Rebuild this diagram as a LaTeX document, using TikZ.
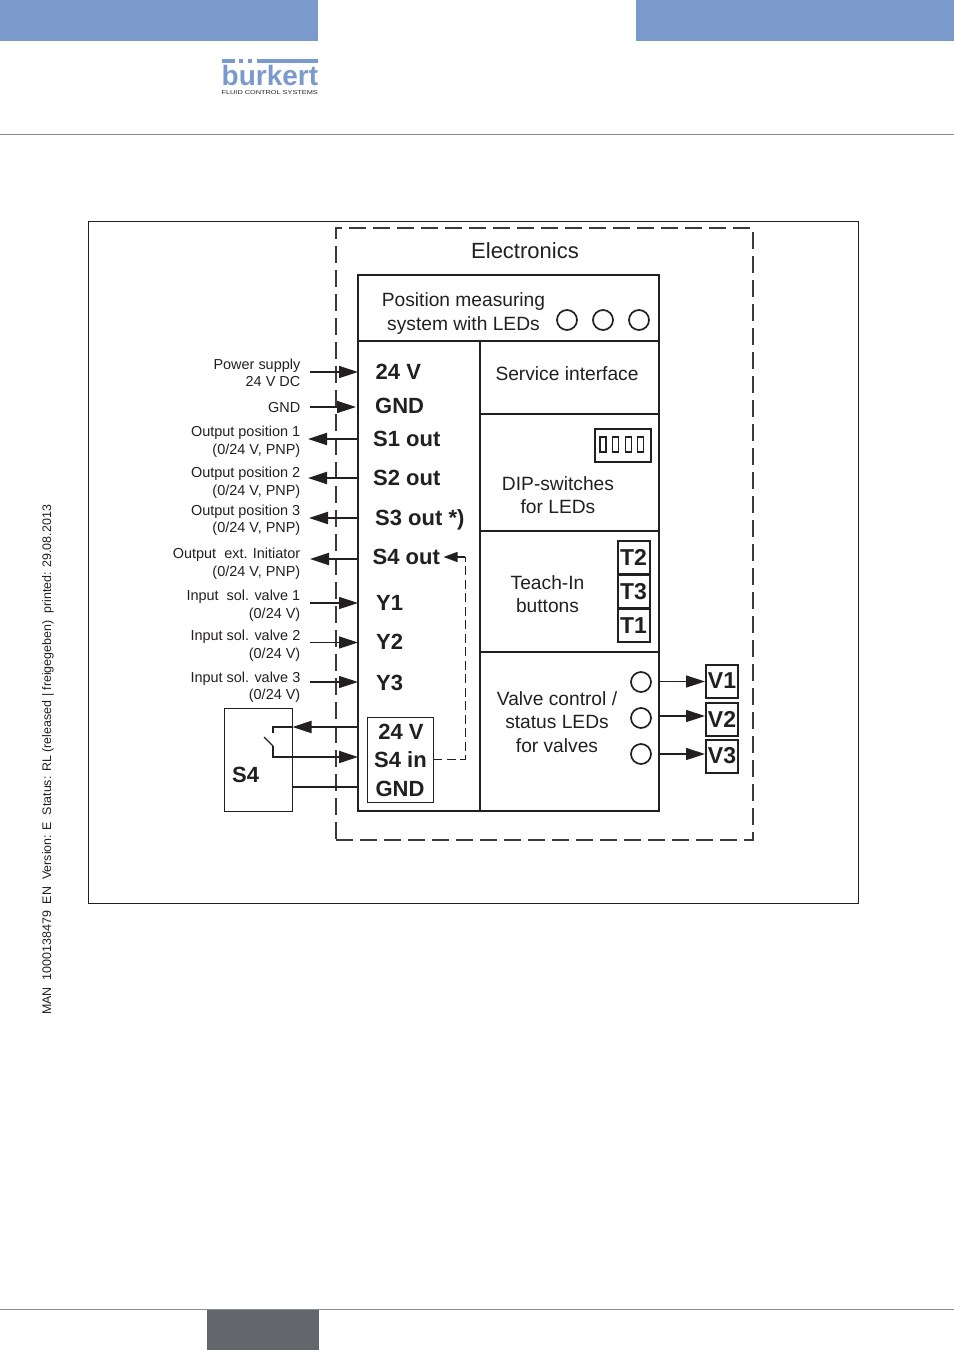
\documentclass[tikz,border=0pt]{standalone}
\usepackage{fontspec}
\setmainfont{Liberation Sans}
\usetikzlibrary{arrows.meta}
\definecolor{hdr}{HTML}{7A9ACB}
\definecolor{ink}{HTML}{231F20}
\definecolor{rulegrey}{HTML}{8A8C8E}
\definecolor{footgrey}{HTML}{63666A}
\definecolor{dashgrey}{HTML}{3A3A3C}
\tikzset{
  lab/.style={font=\fontsize{14.45}{17.5}\selectfont, text=ink, align=right, anchor=east, inner sep=0pt},
  big/.style={font=\fontsize{22}{24}\selectfont\bfseries, text=ink, anchor=west, inner sep=0pt},
  body/.style={font=\fontsize{19.2}{23.5}\selectfont, text=ink, align=center, inner sep=0pt},
  cell/.style={draw=ink, line width=2pt, anchor=north west, inner sep=0pt},
  thin box/.style={draw=ink, line width=1pt, anchor=north west, inner sep=0pt},
  tbox/.style={draw=ink, line width=2pt, inner sep=0pt, minimum width=32pt, minimum height=33pt, font=\fontsize{23}{24}\selectfont\bfseries, text=ink},
  led/.style={circle, draw=ink, line width=1.7pt, minimum size=20pt, inner sep=0pt},
  sig/.style={draw=ink, line width=1.5pt, -{Triangle[length=19pt,width=12pt]}},
  wire/.style={draw=ink, line width=2.2pt},
  wirea/.style={wire, -{Triangle[length=19pt,width=12pt]}},
  dip/.style={draw=ink, line width=1.5pt, minimum width=6pt, minimum height=15pt, inner sep=0pt},
}
\begin{document}
\begin{tikzpicture}[x=1pt,y=-1pt]
\useasboundingbox (0,0) rectangle (954,1350);
% page furniture
\fill[hdr] (0,0) rectangle (318,41);
\fill[hdr] (636,0) rectangle (954,41);
\draw[rulegrey,line width=1pt] (0,134.5) -- (954,134.5);
\draw[rulegrey,line width=1pt] (0,1309.5) -- (954,1309.5);
\fill[footgrey] (207,1310) rectangle (319,1350);
% logo
\node[inner sep=0pt,anchor=base west,text=hdr,font=\fontsize{28}{28}\selectfont\bfseries] (logo) at (221.5,85.5) {bürkert};
\fill[white] (239,60) rectangle (256.5,69.5);
\fill[hdr] (222,59) rectangle (235,63);
\fill[hdr] (239,59) rectangle (243,63);
\fill[hdr] (248,59) rectangle (252,63);
\fill[hdr] (257,59) rectangle (318,63);
\node[inner sep=0pt,anchor=base east,text=ink,font=\fontsize{5.6}{6}\selectfont] (logosub) at (318,94) {\scalebox{1.31}[1]{FLUID CONTROL SYSTEMS}};
% side text
\node[rotate=90,inner sep=0pt,anchor=west,text=ink,font=\fontsize{12.45}{14}\selectfont] (side) at (48,1015) {MAN\ \ 1000138479\ \ EN\ \ Version: E\ \ Status: RL (released | freigegeben)\ \ printed: 29.08.2013};
% frames
\node[draw=ink,line width=.8pt,anchor=north west,minimum width=770pt,minimum height=682pt,inner sep=0pt] (frame) at (87.7,220.5) {};
\node[draw=dashgrey,line width=1.8pt,dash pattern=on 17pt off 7pt,anchor=north west,minimum width=417pt,minimum height=612pt,inner sep=0pt] (elec) at (335,227) {};
\node[body,font=\fontsize{22}{24}\selectfont] (electxt) at (525,251) {Electronics};
% main cells
\node[cell,minimum width=301pt,minimum height=66pt] (top) at (357,274) {};
\node[cell,minimum width=122pt,minimum height=470pt] (left) at (357,340) {};
\node[cell,minimum width=179pt,minimum height=73pt] (svc) at (479,340) {};
\node[cell,minimum width=179pt,minimum height=117pt] (dipc) at (479,413) {};
\node[cell,minimum width=179pt,minimum height=121pt] (teach) at (479,530) {};
\node[cell,minimum width=179pt,minimum height=159pt] (valve) at (479,651) {};
% cell text
\node[body] (pos) at (463.5,313.5) {Position measuring\\system with LEDs};
\node[led] (l1) at (567,320) {};
\node[led] (l2) at (603,320) {};
\node[led] (l3) at (639,320) {};
\node[body] (svct) at (567,374) {Service interface};
\node[body] (dipt) at (558,495) {DIP-switches\\for LEDs};
\node[body] (teacht) at (547.5,594) {Teach-In\\buttons};
\node[body] (valt) at (557,722) {Valve control /\\status LEDs\\for valves};
% DIP
\node[draw=ink,line width=2pt,anchor=north west,minimum width=56pt,minimum height=32.5pt,inner sep=0pt] (dipbox) at (594,428) {};
\node[dip] (d1) at (603,444.5) {};
\node[dip] (d2) at (615.5,444.5) {};
\node[dip] (d3) at (628.5,444.5) {};
\node[dip] (d4) at (640.5,444.5) {};
% T buttons
\node[tbox] (t2) at (633.5,557.5) {T2};
\node[tbox] (t3) at (633.5,591.5) {T3};
\node[tbox] (t1) at (633.5,625.5) {T1};
% terminal labels
\node[big] (a24) at (375.5,372) {24 V};
\node[big] (agnd) at (375,406) {GND};
\node[big] (s1) at (373,438.5) {S1 out};
\node[big] (s2) at (373,477.5) {S2 out};
\node[big] (s3) at (375,520) {S3 out *)};
\node[big] (s4) at (372.5,557) {S4 out};
\node[big] (y1) at (376,603) {Y1};
\node[big] (y2) at (376,642) {Y2};
\node[big] (y3) at (376,683) {Y3};
\node[thin box,minimum width=66pt,minimum height=85pt] (s4box) at (366.7,716.7) {};
\node[big,anchor=center] (i24) at (401,732) {24 V};
\node[big,anchor=center] (iin) at (400.5,760) {S4 in};
\node[big,anchor=center] (ignd) at (400,788.5) {GND};
% left labels
\node[lab] (lp) at (300.5,373) {Power supply\\24 V DC};
\node[lab] (lg) at (300.5,407.5) {GND};
\node[lab] (lo1) at (300.5,441.8) {Output position 1\\(0/24 V, PNP)};
\node[lab] (lo2) at (300.5,483) {Output position 2\\(0/24 V, PNP)};
\node[lab] (lo3) at (300.5,520.5) {Output position 3\\(0/24 V, PNP)};
\node[lab] (lo4) at (300.5,564) {Output\ \ ext. Initiator\\(0/24 V, PNP)};
\node[lab] (li1) at (300.5,606) {Input\ \ sol. valve 1\\(0/24 V)};
\node[lab] (li2) at (300.5,645.5) {Input sol. valve 2\\(0/24 V)};
\node[lab] (li3) at (300.5,687) {Input sol. valve 3\\(0/24 V)};
% signal arrows
\coordinate (c1) at (310,372);  \coordinate (e1) at (358,372);
\coordinate (c2) at (310,407);  \coordinate (e2) at (356,407);
\coordinate (c3) at (358,439);  \coordinate (e3) at (308,439);
\coordinate (c4) at (358,478);  \coordinate (e4) at (308,478);
\coordinate (c5) at (358,518);  \coordinate (e5) at (309,518);
\coordinate (c6) at (358,559);  \coordinate (e6) at (310,559);
\coordinate (c7) at (310,603);  \coordinate (e7) at (358,603);
\coordinate (c8) at (310,642.5);  \coordinate (e8) at (358,642.5);
\coordinate (c9) at (310,682);  \coordinate (e9) at (358,682);
\draw[sig] (c1) -- (e1);
\draw[sig] (c2) -- (e2);
\draw[sig,line width=2pt] (c3) -- (e3);
\draw[sig,line width=2pt] (c4) -- (e4);
\draw[sig,line width=2pt] (c5) -- (e5);
\draw[sig,line width=2pt] (c6) -- (e6);
\draw[sig] (c7) -- (e7);
\draw[sig] (c8) -- (e8);
\draw[sig] (c9) -- (e9);
% S4 switch
\node[draw=ink,line width=1pt,anchor=north west,minimum width=68pt,minimum height=103pt,inner sep=0pt] (sw) at (223.7,708) {};
\node[big] (swt) at (232,775) {S4};
\coordinate (w1) at (358,727);
\coordinate (w1e) at (292.5,727);
\coordinate (k1) at (273,727);
\coordinate (k2) at (273,733);
\coordinate (k3) at (264,737);
\coordinate (k4) at (273,746);
\coordinate (k5) at (273,757);
\coordinate (w2) at (358,757);
\coordinate (w3a) at (292,787);
\coordinate (w3b) at (358,787);
\draw[wirea] (w1) -- (w1e);
\draw[wire] (w1e) -- (k1) -- (k2);
\draw[draw=ink,line width=1.4pt] (k3) -- (k4);
\draw[wirea] (k4) -- (k5) -- (w2);
\draw[wire] (w3a) -- (w3b);
% dashed link
\coordinate (dd1) at (433,759);
\coordinate (dd2) at (465,759);
\coordinate (dd3) at (465,557);
\coordinate (dd4) at (443.5,557);
\draw[draw=ink,line width=.9pt,dash pattern=on 9pt off 4.5pt] (dd1) -- (dd2) -- (dd3);
\draw[draw=ink,line width=1.2pt,-{Triangle[length=14pt,width=10pt]}] (dd3) -- (dd4);
% valves
\node[led] (v1l) at (641,682) {};
\node[led] (v2l) at (641,718) {};
\node[led] (v3l) at (641,754) {};
\node[tbox] (v1) at (722,681) {V1};
\node[tbox] (v2) at (722,719) {V2};
\node[tbox] (v3) at (722,756) {V3};
\coordinate (o1) at (660,681.5);
\coordinate (o2) at (660,716);
\coordinate (o3) at (660,754);
\draw[sig] (o1) -- (v1.west |- o1);
\draw[sig] (o2) -- (v2.west |- o2);
\draw[sig] (o3) -- (v3.west |- o3);
\end{tikzpicture}
\end{document}
